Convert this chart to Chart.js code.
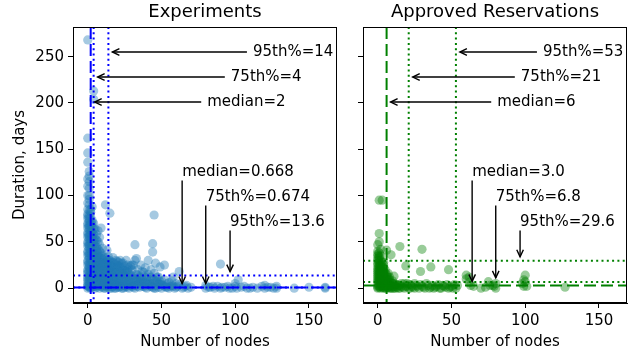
<!DOCTYPE html>
<html>
<head>
<meta charset="utf-8">
<script src="https://cdn.jsdelivr.net/npm/chart.js@4.4.1/dist/chart.umd.min.js"></script>
<style>
  body { margin: 0; background: #fff; }
  #wrap { position: relative; width: 635px; height: 354px; }
  #expChart { position: absolute; left: 0; top: 0; }
  #resChart { position: absolute; left: 345px; top: 0; }
</style>
</head>
<body>
<div id="wrap">
  <canvas id="expChart" width="345" height="354"></canvas>
  <canvas id="resChart" width="290" height="354"></canvas>
</div>
<script>
// ---- data (nodes, days) ----
const expPoints = [
  [0,0],[0,2],[0,5],[0,8],[0,12],[0,16],[0,20],[0,25],[0,30],[0,35],[0,40],[0,45],[0,50],[0,55],[0,60],[0,65],[0,70],[0,75],[0,80],[0,85],
  [1,1],[1,4],[1,7],[1,10],[1,14],[1,18],[1,22],[1,27],[1,32],[1,38],[1,43],[1,48],[1,53],[1,58],[1,63],[1,68],[1,72],[1,78],[1,84],[1,90],
  [1,96],[1,100],[1,108],[1,115],[1,121],[1,126],[0,136],[0,146],[0,162],[0,268],
  [2,0],[2,3],[2,6],[2,9],[2,13],[2,17],[2,21],[2,26],[2,31],[2,36],[2,42],[2,47],[2,52],[2,57],[2,62],[2,67],[2,71],[2,77],[2,82],[4,204],
  [3,1],[3,4],[3,8],[3,11],[3,15],[3,19],[3,24],[3,29],[3,34],[3,39],[3,44],[3,50],[3,56],[3,61],[3,66],[3,73],[3,88],[4,213],
  [4,2],[4,6],[4,10],[4,15],[4,20],[4,26],[4,32],[4,40],[4,48],[4,58],[4,70],
  [5,0],[5,4],[5,9],[5,14],[5,19],[5,25],[5,31],[5,38],[5,45],[5,53],[5,64],
  [6,1],[6,5],[6,12],[6,18],[6,24],[6,30],[6,36],[6,44],[6,52],
  [7,3],[7,8],[7,15],[7,22],[7,28],[7,35],[7,42],[7,50],[7,62],
  [8,0],[8,6],[8,11],[8,18],[8,25],[8,33],[8,40],[8,47],
  [9,2],[9,9],[9,16],[9,23],[9,30],[9,38],[9,65],
  [10,4],[10,12],[10,20],[10,27],[10,35],[10,43],
  [11,0],[11,7],[11,15],[11,24],[11,32],[12,90],
  [12,3],[12,10],[12,19],[12,28],[13,41],
  [13,1],[13,6],[13,13],[13,22],[13,30],
  [14,4],[14,9],[14,17],[14,26],[14,34],
  [15,0],[15,7],[15,14],[15,21],[15,30],[15,81],
  [16,2],[16,11],[16,19],[16,28],
  [17,5],[17,13],[17,24],[17,33],
  [18,0],[18,8],[18,17],[18,27],
  [19,3],[19,12],[19,22],[19,30],
  [20,1],[20,6],[20,15],[20,25],
  [21,9],[21,19],[21,28],
  [22,2],[22,13],[22,23],
  [23,5],[23,17],[23,27],
  [24,0],[24,10],[24,20],
  [25,3],[25,14],[25,24],
  [26,7],[26,18],[26,30],
  [27,1],[27,12],
  [28,4],[28,16],[28,22],
  [29,8],
  [30,2],[30,13],[30,20],
  [31,6],[31,25],
  [32,0],[32,10],[32,47],[32,30],
  [33,4],[33,15],[33,32],
  [34,8],[34,20],
  [35,1],[35,12],
  [36,5],[36,25],
  [37,9],[37,18],
  [38,2],[38,13],
  [39,6],[39,22],
  [40,0],[40,10],
  [41,4],[41,15],[41,30],
  [42,8],
  [43,2],[43,12],[43,20],
  [44,5],[44,39],[44,48],
  [45,0],[45,9],[45,79],[45,16],
  [46,3],[46,27],
  [47,7],
  [48,1],[48,12],
  [49,4],[49,23],
  [50,0],[50,8],
  [52,2],[52,25],
  [54,5],[55,0],[57,3],[58,12],[60,1],[62,4],[62,18],[64,0],[66,2],[68,0],[70,1],
  [80,0],[80,3],[83,1],[86,0],[88,2],[90,26],[90,0],[93,1],[96,0],
  [100,2],[100,5],[102,9],[104,1],[108,0],[112,1],[115,0],[118,2],[120,0],[120,3],
  [124,1],[128,0],[128,2],[140,0],[150,1],[161,0],[161,1],
  // second pass over the dense part
  [0,3],[0,10],[0,18],[0,28],[0,38],[0,48],[0,58],[0,68],[0,78],[0,92],[0,100],[0,110],[0,118],
  [2,1],[2,11],[2,19],[2,29],[2,39],[2,49],[2,59],[2,69],[2,85],
  [1,2],[1,12],[1,24],[1,35],[1,46],[1,56],[1,66],[1,75],
  [3,6],[3,16],[3,26],[3,36],[3,47],[3,58],[3,70],
  [4,4],[4,12],[4,23],[4,36],[4,52],[4,64],
  [5,2],[5,11],[5,22],[5,34],[5,48],
  [6,3],[6,9],[6,21],[6,33],[6,40],[6,58],
  [7,5],[7,12],[7,25],[7,38],
  [8,3],[8,14],[8,21],[8,29],[8,55],
  [9,5],[9,12],[9,20],[9,27],[9,34],
  [10,1],[10,8],[10,16],[10,24],[10,31],
  [11,4],[11,11],[11,20],[11,28],
  [12,0],[12,6],[12,14],[12,23],[12,33],
  [13,3],[13,9],[13,18],[13,26],
  [14,1],[14,12],[14,21],[14,30],
  [15,4],[15,10],[15,18],[15,25],
  [16,0],[16,6],[16,15],[16,23],
  [17,2],[17,9],[17,18],[17,28],
  [18,4],[18,12],[18,22],
  [19,0],[19,7],[19,17],
  [20,3],[20,10],[20,20],[20,29],
  [21,1],[21,5],[21,14],[21,24],
  [22,7],[22,18],[22,30],
  [23,0],[23,10],[23,22],
  [24,4],[24,15],[24,27],
  [25,1],[25,8],[25,19],
  [26,2],[26,12],
  [27,5],[27,17],[27,20],[27,25],
  [28,0],[28,9],
  [29,3],[29,14],[29,24],
  [30,6],[30,25],
  [31,1],[31,11],
  [32,3],[33,9],[34,2],[34,14],[35,6],[36,8],[36,11],[37,2],[38,7],[38,17],[39,1],
  [40,5],[40,12],[42,2],[42,5],[44,1],[44,10],[46,0],[46,8],[47,12],[48,5],[49,7],
  [50,4],[51,3],[52,9],[53,1],[54,1],[55,6],[56,2],[57,8],[58,2],[59,0],[60,5],
  [61,2],[65,1],[67,3],[82,1],[85,2],[91,1],[95,2],[98,0],[101,0],[106,2],[110,0],[122,1],[126,0]
];

const resPoints = [
  [0,0],[0,3],[0,6],[0,10],[0,14],[0,18],[0,22],[0,27],[0,32],[0,37],[0,47],
  [1,1],[1,4],[1,8],[1,12],[1,16],[1,20],[1,25],[1,30],[1,35],[1,50],[1,59],[1,95],
  [2,0],[2,2],[2,5],[2,9],[2,13],[2,17],[2,21],[2,26],[2,42],
  [3,1],[3,4],[3,7],[3,11],[3,15],[3,19],[3,24],[3,95],
  [4,0],[4,3],[4,6],[4,10],[4,14],[4,18],[4,22],[4,28],
  [5,2],[5,5],[5,8],[5,13],[5,20],
  [6,0],[6,3],[6,7],[6,12],[6,41],
  [7,1],[7,4],[7,9],[7,16],
  [8,0],[8,2],[8,6],[8,12],
  [9,3],[9,36],[10,0],[10,5],[11,2],[11,13],[12,0],[12,4],[13,1],[14,3],
  [15,0],[15,45],[16,2],[18,0],[18,5],[19,24],[20,2],[22,0],[22,4],[24,1],
  [26,3],[28,0],[29,18],[30,42],[30,2],[32,0],[34,3],[36,1],[36,23],[38,0],
  [40,2],[42,0],[44,3],[46,1],[48,20],[48,0],[50,2],[52,4],[53,0],
  [60,14],[60,10],[63,3],[70,0],[75,7],[78,3],[80,5],[80,0],
  [99,2],[99,9],[100,14],[127,1],
  // second pass over the dense part
  [0,1],[0,8],[0,12],[0,16],[0,20],[0,25],[0,30],[0,35],[0,40],
  [1,2],[1,6],[1,10],[1,14],[1,18],[1,23],[1,28],[1,33],[1,38],
  [2,3],[2,7],[2,11],[2,15],[2,19],[2,24],[2,30],[2,35],
  [3,2],[3,5],[3,9],[3,13],[3,17],[3,22],[3,28],
  [4,1],[4,5],[4,8],[4,12],[4,16],[4,25],
  [5,0],[5,3],[5,10],[5,16],
  [6,1],[6,5],[6,9],[6,15],
  [7,2],[7,6],[7,12],
  [8,1],[8,4],[8,9],
  [9,0],[9,6],[10,2],[10,8],[11,0],[11,5],[12,2],[13,4],[14,0],[15,3],[16,5],[17,1],
  [19,2],[20,5],[21,0],[23,2],[25,0],[25,5],[27,2],[29,4],[31,1],[33,5],[35,0],[37,3],
  [39,1],[41,4],[43,0],[45,2],[47,4],[49,1],[51,0],[54,3],
  [62,6],[62,12],[65,2],[73,1],[76,3],[79,2],[98,5],[101,2],[100,7]
];

const xTicks = [0, 50, 100, 150];
const yTicks = [0, 50, 100, 150, 200, 250];

const percentileNames = ['median', '75th%', '95th%'];
const expNodePct = [2, 4, 14];
const expNodeLabels = ['2', '4', '14'];
const expDayPct = [0.668, 0.674, 13.6];
const expDayLabels = ['0.668', '0.674', '13.6'];
const resNodePct = [6, 21, 53];
const resNodeLabels = ['6', '21', '53'];
const resDayPct = [3.0, 6.8, 29.6];
const resDayLabels = ['3.0', '6.8', '29.6'];

// where the annotation texts sit (data coords)
const nodeNotePos = [[81, 201], [97, 228], [112, 255]];
const dayNotePos = [[64, 125], [80, 98], [96.5, 71]];

const FONT = '"DejaVu Sans", sans-serif';

function drawArrow(ctx, x1, y1, x2, y2) {
  const ang = Math.atan2(y2 - y1, x2 - x1);
  const hl = 7, hw = 3.3;
  ctx.beginPath();
  ctx.moveTo(x1, y1);
  ctx.lineTo(x2, y2);
  ctx.stroke();
  ctx.beginPath();
  ctx.moveTo(x2 - hl * Math.cos(ang) - hw * Math.sin(ang), y2 - hl * Math.sin(ang) + hw * Math.cos(ang));
  ctx.lineTo(x2, y2);
  ctx.lineTo(x2 - hl * Math.cos(ang) + hw * Math.sin(ang), y2 - hl * Math.sin(ang) - hw * Math.cos(ang));
  ctx.stroke();
}

// percentile lines, frame and arrows
const pctPlugin = {
  id: 'pct',
  afterDatasetsDraw(chart, args, opts) {
    const ctx = chart.ctx;
    const a = chart.chartArea;
    const x = chart.scales.x, y = chart.scales.y;
    ctx.save();
    ctx.beginPath();
    ctx.rect(a.left, a.top, a.right - a.left, a.bottom - a.top);
    ctx.clip();
    ctx.strokeStyle = opts.color;
    ctx.lineWidth = 2;
    opts.nodes.forEach((v, i) => {
      ctx.setLineDash(i === 0 ? [12, 5] : [2, 3.3]);
      const px = x.getPixelForValue(v);
      ctx.beginPath(); ctx.moveTo(px, a.top); ctx.lineTo(px, a.bottom); ctx.stroke();
    });
    opts.days.forEach((v, i) => {
      ctx.setLineDash(i === 0 ? [12, 5] : [2, 3.3]);
      const py = y.getPixelForValue(v);
      ctx.beginPath(); ctx.moveTo(a.left, py); ctx.lineTo(a.right, py); ctx.stroke();
    });
    ctx.restore();

    ctx.save();
    ctx.setLineDash([]);
    ctx.strokeStyle = 'black';
    ctx.lineWidth = 1;
    ctx.strokeRect(a.left + 0.5, a.top + 0.5, a.right - a.left - 1, a.bottom - a.top - 1);

    ctx.font = '15px ' + FONT;
    ctx.fillStyle = 'black';
    ctx.textBaseline = 'middle';
    ctx.textAlign = 'left';
    ctx.lineWidth = 1.4;
    opts.nodes.forEach((v, i) => {
      const tx = x.getPixelForValue(nodeNotePos[i][0]);
      const ty = y.getPixelForValue(nodeNotePos[i][1]);
      ctx.fillText(percentileNames[i] + '=' + opts.nodeLabels[i], tx, ty);
      drawArrow(ctx, tx - 6, ty, x.getPixelForValue(v) + 4, ty);
    });
    opts.days.forEach((v, i) => {
      const tx = x.getPixelForValue(dayNotePos[i][0]);
      const ty = y.getPixelForValue(dayNotePos[i][1]);
      ctx.fillText(percentileNames[i] + '=' + opts.dayLabels[i], tx, ty);
      drawArrow(ctx, tx, ty + 8, tx, y.getPixelForValue(v) - 4);
    });
    ctx.restore();
  }
};

function makeChart(id, title, points, color, pct, yWidth, showYLabels) {
  return new Chart(document.getElementById(id), {
    type: 'scatter',
    data: {
      datasets: [{
        data: points.map(p => ({ x: p[0], y: p[1] })),
        backgroundColor: color,
        borderWidth: 0,
        pointRadius: 4.6,
        pointHoverRadius: 4.6
      }]
    },
    options: {
      responsive: false,
      animation: false,
      events: [],
      layout: { padding: { left: 0, right: 8, top: 0, bottom: 0 } },
      plugins: {
        legend: { display: false },
        tooltip: { enabled: false },
        title: {
          display: true,
          text: title,
          fullSize: false,
          color: 'black',
          font: { family: FONT, size: 18, weight: 'normal' },
          padding: { top: 2, bottom: 3.4 }
        },
        pct: pct
      },
      scales: {
        x: {
          type: 'linear',
          min: -10,
          max: 169,
          afterBuildTicks: s => { s.ticks = xTicks.map(v => ({ value: v })); },
          afterFit: s => { s.height = 51; },
          grid: { drawOnChartArea: false, color: 'black', tickLength: 5 },
          border: { color: 'black' },
          ticks: { color: 'black', font: { family: FONT, size: 15 }, padding: 4, maxRotation: 0 },
          title: { display: true, text: 'Number of nodes', color: 'black', font: { family: FONT, size: 15 }, padding: { top: 0, bottom: 3 } }
        },
        y: {
          type: 'linear',
          min: -16,
          max: 282,
          afterBuildTicks: s => { s.ticks = yTicks.map(v => ({ value: v })); },
          afterFit: s => { s.width = yWidth; },
          grid: { drawOnChartArea: false, color: 'black', tickLength: 5 },
          border: { color: 'black' },
          ticks: {
            color: 'black',
            font: { family: FONT, size: 15 },
            padding: 4,
            callback: v => showYLabels ? v : ''
          },
          title: { display: showYLabels, text: 'Duration, days', color: 'black', font: { family: FONT, size: 15 }, padding: { top: 11, bottom: 0 } }
        }
      }
    },
    plugins: [pctPlugin]
  });
}

makeChart('expChart', 'Experiments', expPoints, 'rgba(31,119,180,0.4)', {
  color: '#0000ff', nodes: expNodePct, nodeLabels: expNodeLabels, days: expDayPct, dayLabels: expDayLabels
}, 73, true);

makeChart('resChart', 'Approved Reservations', resPoints, 'rgba(0,128,0,0.4)', {
  color: '#008000', nodes: resNodePct, nodeLabels: resNodeLabels, days: resDayPct, dayLabels: resDayLabels
}, 18, false);
</script>
</body>
</html>
